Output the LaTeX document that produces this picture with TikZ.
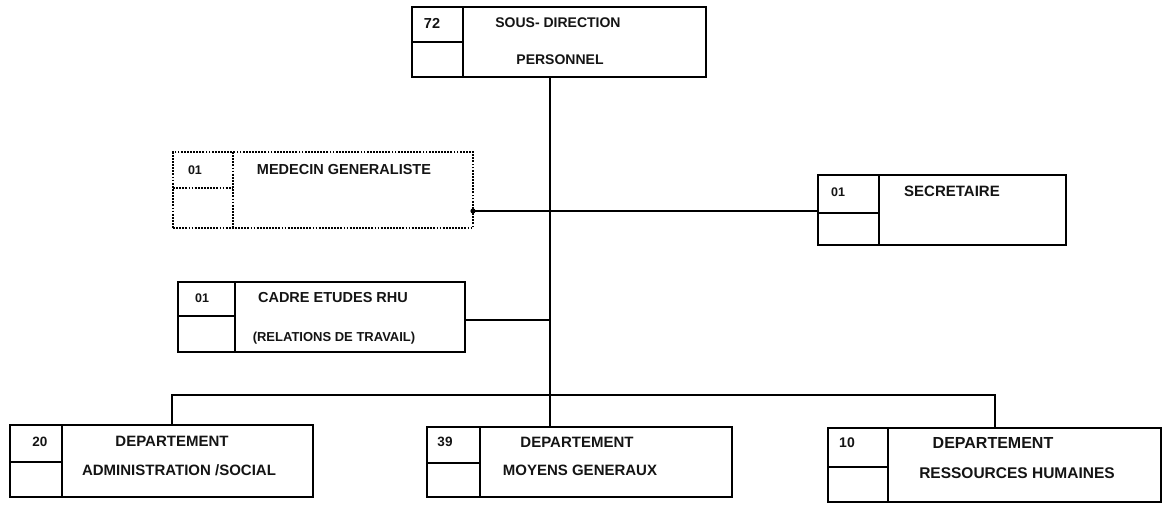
\documentclass[tikz,border=0pt]{standalone}
\usepackage{fontspec}
\setmainfont{Liberation Sans}
\begin{document}
\begin{tikzpicture}[x=1pt,y=-1pt,
  frame/.style={draw=black,line width=2.2pt,inner sep=0pt,outer sep=0pt,rectangle},
  dotframe/.style={frame,line width=2.6pt,dash pattern=on 1.8pt off 1.3pt},
  link/.style={draw=black,line width=2.2pt},
  cell/.style={draw=black,line width=2.2pt},
  dotcell/.style={cell,line width=2.6pt,dash pattern=on 1.8pt off 1.3pt},
  lbl/.style={inner sep=0pt,font=\bfseries\fontsize{#1}{#1}\selectfont,text=black!92},
  lbl/.default=14.5
]
\useasboundingbox (0,0) rectangle (1168,506);

% ---- boxes ----
\node[frame,minimum width=294pt,minimum height=70pt] (top) at (559,42) {};
\draw[cell] (463,7) -- (463,77) (412,42) -- (463,42);

\node[dotframe,minimum width=300pt,minimum height=76pt] (med) at (323,190) {};
\draw[dotcell] (233,152) -- (233,228) (173,188) -- (233,188);

\node[frame,minimum width=248pt,minimum height=70pt] (sec) at (942,210) {};
\draw[cell] (879,175) -- (879,245) (818,213) -- (879,213);

\node[frame,minimum width=287pt,minimum height=70pt] (cad) at (321.5,317) {};
\draw[cell] (235,282) -- (235,352) (178,316) -- (235,316);

\node[frame,minimum width=303pt,minimum height=72pt] (adm) at (161.5,461) {};
\draw[cell] (62,425) -- (62,497) (10,462) -- (62,462);

\node[frame,minimum width=305pt,minimum height=70pt] (moy) at (579.5,462) {};
\draw[cell] (480,427) -- (480,497) (427,463) -- (480,463);

\node[frame,minimum width=333pt,minimum height=74pt] (rh) at (994.5,465) {};
\draw[cell] (888,428) -- (888,502) (828,467) -- (888,467);

% ---- texts ----
\node[lbl=14.5] (t72) at (432,23) {72};
\node[lbl=14] (t1a) at (558,23) {SOUS- DIRECTION};
\node[lbl=14] (t1b) at (560,60) {PERSONNEL};

\node[lbl=12.5] (tmed0) at (195,170) {01};
\node[lbl=14.5] (tmed) at (344,170) {MEDECIN GENERALISTE};

\node[lbl=12.5] (tsec0) at (838,192) {01};
\node[lbl=15] (tsec) at (952,191) {SECRETAIRE};

\node[lbl=12.5] (tcad0) at (202,298) {01};
\node[lbl=14.5] (tcad) at (333,298) {CADRE ETUDES RHU};
\node[lbl=13] (tcadb) at (334,338) {(RELATIONS DE TRAVAIL)};

\node[lbl=13.5] (tadm0) at (40,442) {20};
\node[lbl=15] (tadm) at (172,441) {DEPARTEMENT};
\node[lbl=15] (tadmb) at (179,470) {ADMINISTRATION /SOCIAL};

\node[lbl=13.5] (tmoy0) at (445,442) {39};
\node[lbl=15] (tmoy) at (577,442) {DEPARTEMENT};
\node[lbl=15] (tmoyb) at (580,470) {MOYENS GENERAUX};

\node[lbl=14] (trh0) at (847,443) {10};
\node[lbl=16] (trh) at (993,443) {DEPARTEMENT};
\node[lbl=15.5] (trhb) at (1017,473) {RESSOURCES HUMAINES};

% ---- connectors ----
\coordinate (spine) at (550,395);
\coordinate (medlink) at (550,211);
\coordinate (cadlink) at (550,320);
\coordinate (busL) at (172,395);
\coordinate (busR) at (995,395);

\draw[link] (top.south -| spine) -- (moy.north -| spine);
\draw[link] (med.east |- medlink) -- (sec.west |- medlink);
\fill (med.east |- medlink) circle (2.6pt);
\draw[link] (cad.east |- cadlink) -- (cadlink);
\draw[link] (adm.north -| busL) -- (busL) -- (busR) -- (rh.north -| busR);
\end{tikzpicture}
\end{document}
